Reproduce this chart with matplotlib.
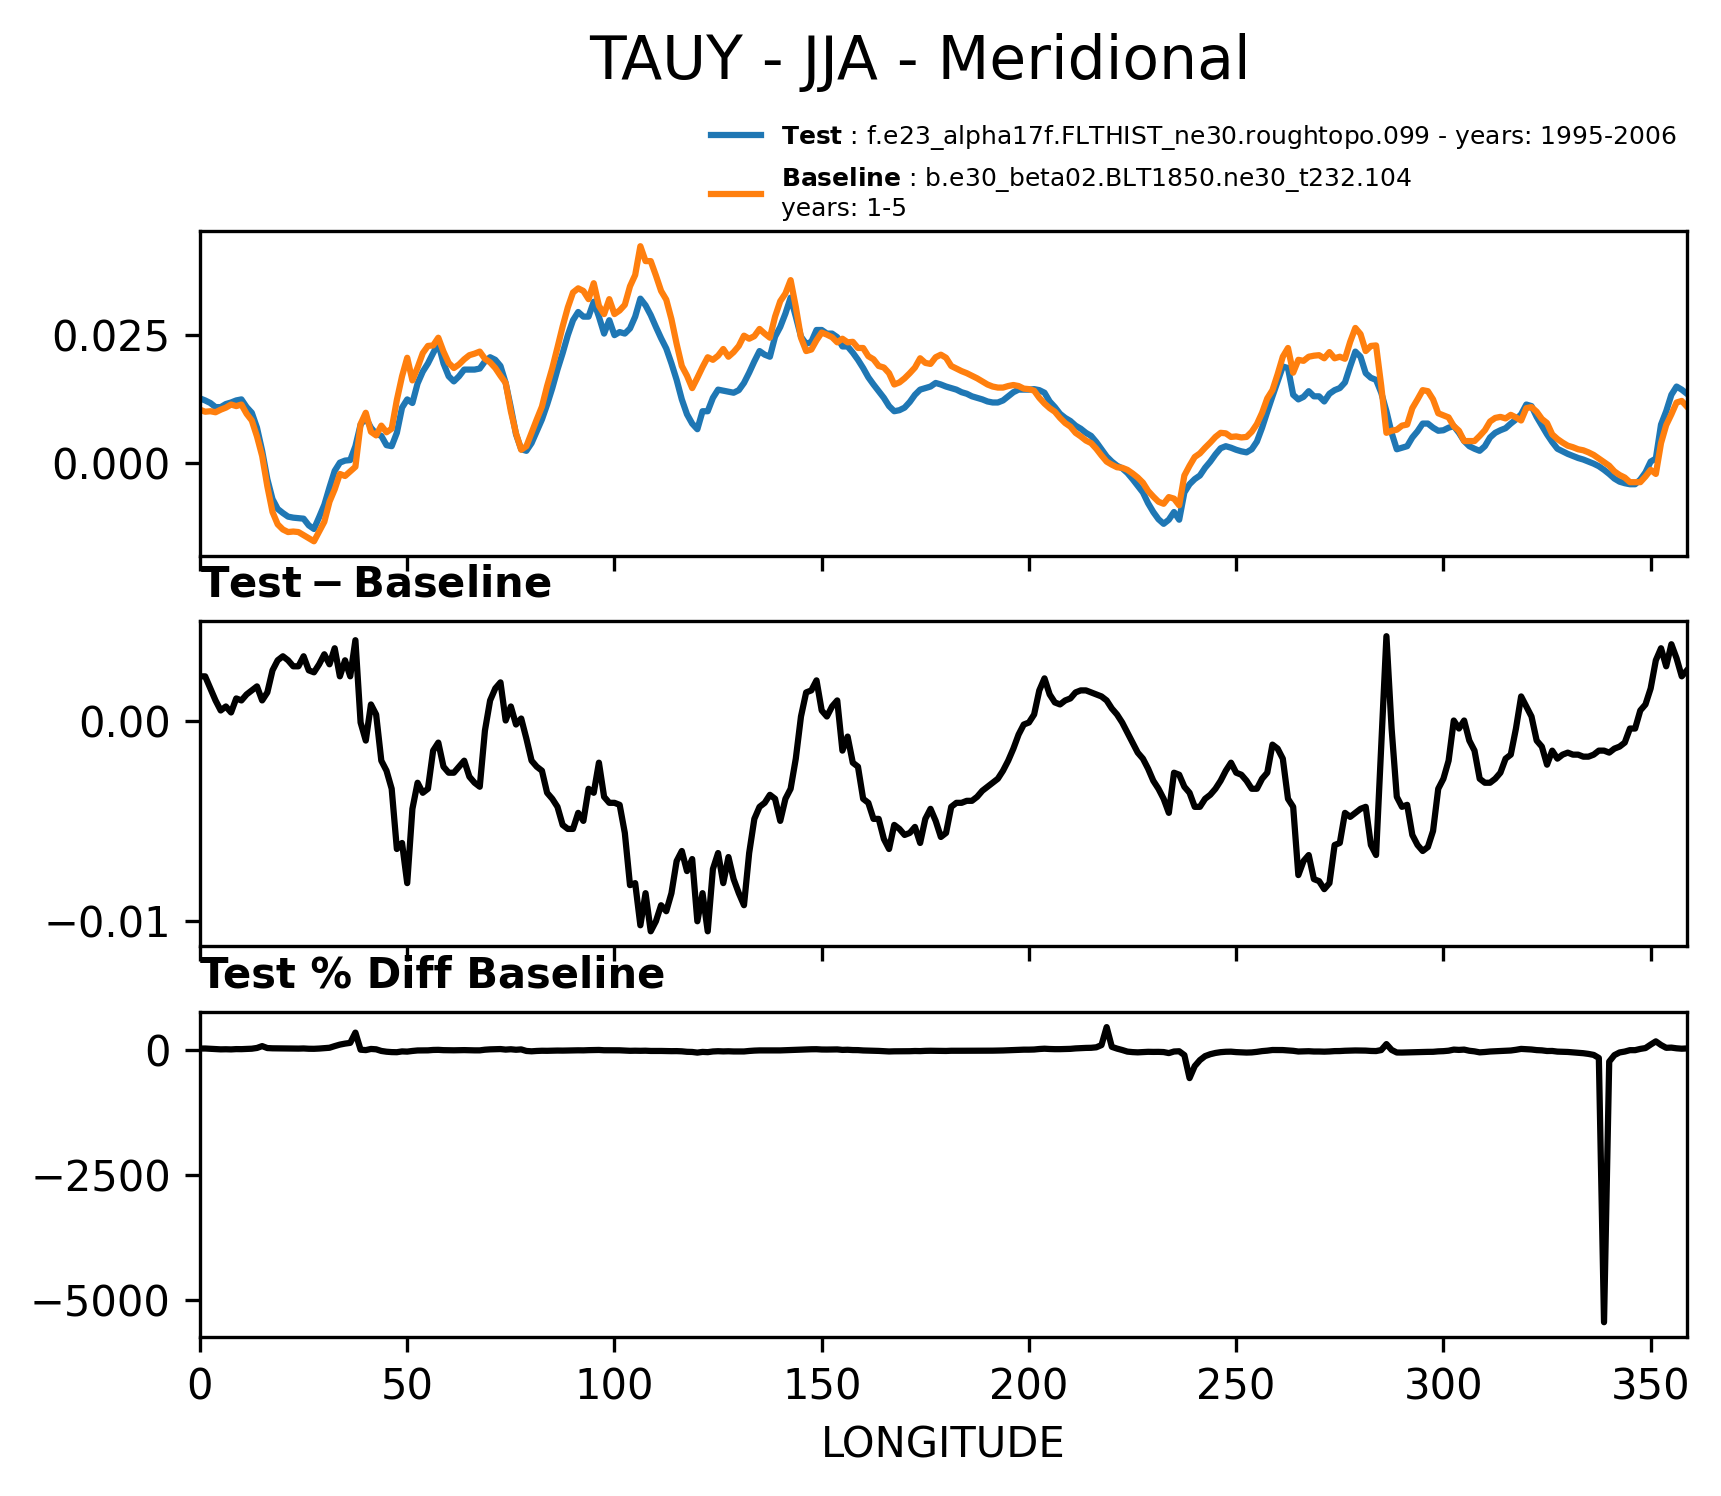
import numpy as np
import matplotlib.pyplot as plt
from matplotlib.ticker import MaxNLocator

# longitude grid of the model output (1.25 deg)
lon = np.arange(0, 360, 1.25)

# TAUY, JJA zonal profile - test run
test = [
    .0126, .0122, .0117, .0109, .0109, .0115, .0118, .0122,
    .0124, .0109, .0098, .0069, .0024, -.0031, -.0070, -.0089,
    -.0097, -.0104, -.0106, -.0107, -.0108, -.0121, -.0128, -.0105,
    -.0081, -.0047, -.0015, .0001, .0005, .0006, .0033, .0075,
    .0088, .0069, .0057, .0053, .0035, .0033, .0059, .0108,
    .0124, .0117, .0155, .0178, .0194, .0214, .0233, .0194,
    .0169, .0159, .0169, .0182, .0182, .0182, .0184, .0198,
    .0206, .0201, .0189, .0156, .0108, .0056, .0027, .0024,
    .0039, .0062, .0085, .0114, .0146, .0182, .0214, .0249,
    .0278, .0294, .0285, .0285, .0314, .0285, .0252, .0278,
    .0249, .0255, .0252, .0262, .0285, .0320, .0307, .0288,
    .0265, .0243, .0223, .0194, .0162, .0124, .0095, .0077,
    .0066, .0101, .0101, .0127, .0143, .0141, .0139, .0137,
    .0142, .0156, .0176, .0198, .0218, .0211, .0207, .0246,
    .0265, .0291, .0322, .0285, .0246, .0232, .0236, .0259,
    .0259, .0252, .0252, .0245, .0227, .0227, .0215, .0201,
    .0185, .0167, .0153, .0140, .0127, .0111, .0101, .0103,
    .0108, .0119, .0133, .0143, .0146, .0149, .0156, .0153,
    .0149, .0146, .0143, .0138, .0135, .0130, .0127, .0124,
    .0120, .0118, .0118, .0122, .0130, .0138, .0143, .0143,
    .0143, .0144, .0142, .0137, .0120, .0109, .0096, .0088,
    .0082, .0073, .0067, .0059, .0053, .0041, .0027, .0013,
    .0003, -.0005, -.0010, -.0019, -.0031, -.0044, -.0057, -.0078,
    -.0095, -.0109, -.0118, -.0110, -.0095, -.0110, -.0057, -.0041,
    -.0031, -.0024, -.0009, .0003, .0017, .0029, .0033, .0030,
    .0026, .0023, .0021, .0027, .0042, .0069, .0100, .0130,
    .0159, .0188, .0185, .0133, .0124, .0129, .0140, .0130,
    .0130, .0120, .0135, .0142, .0146, .0157, .0188, .0217,
    .0207, .0175, .0166, .0162, .0137, .0101, .0059, .0027,
    .0030, .0033, .0050, .0062, .0077, .0077, .0069, .0063,
    .0064, .0069, .0072, .0059, .0043, .0033, .0028, .0024,
    .0033, .0050, .0059, .0064, .0068, .0077, .0085, .0095,
    .0114, .0111, .0090, .0073, .0056, .0041, .0028, .0023,
    .0018, .0014, .0010, .0007, .0003, -.0001, -.0006, -.0013,
    -.0021, -.0030, -.0036, -.0039, -.0041, -.0041, -.0032, -.0018,
    .0003, .0009, .0075, .0101, .0133, .0149, .0143, .0135,
]

# baseline run
base = [
    .0104, .0100, .0101, .0099, .0104, .0108, .0114, .0111,
    .0114, .0096, .0083, .0052, .0014, -.0045, -.0095, -.0119,
    -.0129, -.0134, -.0133, -.0134, -.0140, -.0146, -.0152, -.0133,
    -.0114, -.0075, -.0051, -.0021, -.0025, -.0016, -.0007, .0076,
    .0098, .0061, .0054, .0073, .0060, .0067, .0123, .0169,
    .0205, .0161, .0186, .0214, .0228, .0229, .0244, .0217,
    .0195, .0185, .0192, .0202, .0210, .0213, .0217, .0203,
    .0196, .0185, .0170, .0156, .0101, .0058, .0026, .0033,
    .0059, .0085, .0110, .0150, .0185, .0225, .0266, .0303,
    .0332, .0340, .0335, .0319, .0350, .0306, .0290, .0319,
    .0290, .0297, .0308, .0344, .0366, .0422, .0393, .0393,
    .0365, .0335, .0318, .0280, .0232, .0189, .0170, .0146,
    .0166, .0187, .0206, .0201, .0209, .0222, .0207, .0216,
    .0228, .0248, .0242, .0247, .0261, .0252, .0244, .0285,
    .0315, .0330, .0356, .0304, .0244, .0218, .0221, .0239,
    .0254, .0250, .0245, .0235, .0242, .0235, .0236, .0224,
    .0224, .0208, .0202, .0189, .0186, .0175, .0153, .0157,
    .0165, .0175, .0186, .0204, .0195, .0193, .0206, .0211,
    .0205, .0189, .0184, .0179, .0175, .0170, .0165, .0159,
    .0153, .0149, .0147, .0147, .0150, .0152, .0150, .0145,
    .0144, .0141, .0127, .0116, .0107, .0100, .0088, .0078,
    .0071, .0059, .0052, .0044, .0039, .0028, .0015, .0003,
    -.0003, -.0008, -.0009, -.0013, -.0020, -.0028, -.0038, -.0054,
    -.0065, -.0075, -.0079, -.0066, -.0069, -.0082, -.0024, -.0005,
    .0012, .0019, .0030, .0040, .0051, .0059, .0058, .0051,
    .0052, .0050, .0051, .0061, .0076, .0098, .0126, .0142,
    .0173, .0207, .0224, .0176, .0201, .0199, .0207, .0209,
    .0210, .0204, .0216, .0204, .0207, .0203, .0236, .0263,
    .0251, .0218, .0228, .0229, .0150, .0059, .0063, .0065,
    .0073, .0075, .0107, .0124, .0142, .0140, .0124, .0097,
    .0093, .0089, .0072, .0063, .0043, .0043, .0043, .0053,
    .0064, .0081, .0088, .0090, .0087, .0094, .0089, .0083,
    .0107, .0109, .0100, .0086, .0078, .0056, .0047, .0040,
    .0034, .0031, .0027, .0025, .0021, .0016, .0009, .0002,
    -.0005, -.0016, -.0023, -.0028, -.0037, -.0037, -.0037, -.0026,
    -.0013, -.0021, .0039, .0074, .0095, .0118, .0121, .0110,
]

# test - baseline
diff = [
    .0022, .0022, .0016, .0010, .0005, .0007, .0004, .0011,
    .0010, .0013, .0015, .0017, .0010, .0014, .0025, .0030,
    .0032, .0030, .0027, .0027, .0032, .0025, .0024, .0028,
    .0033, .0028, .0036, .0022, .0030, .0022, .0040, -.0001,
    -.0010, .0008, .0003, -.0020, -.0025, -.0034, -.0064, -.0061,
    -.0081, -.0044, -.0031, -.0036, -.0034, -.0015, -.0011, -.0023,
    -.0026, -.0026, -.0023, -.0020, -.0028, -.0031, -.0033, -.0005,
    .0010, .0016, .0019, .0000, .0007, -.0002, .0001, -.0009,
    -.0020, -.0023, -.0025, -.0036, -.0039, -.0043, -.0052, -.0054,
    -.0054, -.0046, -.0050, -.0034, -.0036, -.0021, -.0038, -.0041,
    -.0041, -.0042, -.0056, -.0082, -.0081, -.0102, -.0086, -.0105,
    -.0100, -.0092, -.0095, -.0086, -.0070, -.0065, -.0075, -.0069,
    -.0100, -.0086, -.0105, -.0074, -.0066, -.0081, -.0068, -.0079,
    -.0086, -.0092, -.0066, -.0049, -.0043, -.0041, -.0037, -.0039,
    -.0050, -.0039, -.0034, -.0019, .0002, .0014, .0015, .0020,
    .0005, .0002, .0007, .0010, -.0015, -.0008, -.0021, -.0023,
    -.0039, -.0041, -.0049, -.0049, -.0059, -.0064, -.0052, -.0054,
    -.0057, -.0056, -.0053, -.0061, -.0049, -.0044, -.0050, -.0058,
    -.0056, -.0043, -.0041, -.0041, -.0040, -.0040, -.0038, -.0035,
    -.0033, -.0031, -.0029, -.0025, -.0020, -.0014, -.0007, -.0002,
    -.0001, .0003, .0015, .0021, .0013, .0009, .0008, .0010,
    .0011, .0014, .0015, .0015, .0014, .0013, .0012, .0010,
    .0006, .0003, -.0001, -.0006, -.0011, -.0016, -.0019, -.0024,
    -.0030, -.0034, -.0039, -.0046, -.0026, -.0027, -.0033, -.0036,
    -.0043, -.0043, -.0039, -.0037, -.0034, -.0030, -.0025, -.0021,
    -.0026, -.0027, -.0030, -.0034, -.0034, -.0029, -.0026, -.0012,
    -.0014, -.0019, -.0039, -.0043, -.0077, -.0070, -.0067, -.0079,
    -.0080, -.0084, -.0081, -.0062, -.0061, -.0046, -.0048, -.0046,
    -.0044, -.0043, -.0062, -.0067, -.0013, .0042, -.0004, -.0038,
    -.0043, -.0042, -.0057, -.0062, -.0065, -.0063, -.0055, -.0034,
    -.0029, -.0020, .0000, -.0004, .0000, -.0010, -.0015, -.0029,
    -.0031, -.0031, -.0029, -.0026, -.0019, -.0017, -.0004, .0012,
    .0007, .0002, -.0010, -.0013, -.0022, -.0015, -.0019, -.0017,
    -.0016, -.0017, -.0017, -.0018, -.0018, -.0017, -.0015, -.0015,
    -.0016, -.0014, -.0013, -.0011, -.0004, -.0004, .0005, .0008,
    .0016, .0030, .0036, .0027, .0038, .0031, .0022, .0025,
]

# test % diff baseline
pct = [
    21, 22, 16, 10, 5, 7, 4, 10,
    9, 13, 18, 33, 70, 31, 26, 25,
    25, 22, 20, 20, 23, 17, 16, 21,
    29, 37, 70, 100, 120, 135, 340, -2,
    -10, 13, 6, -27, -42, -50, -52, -36,
    -40, -27, -17, -17, -15, -7, -5, -11,
    -13, -14, -12, -10, -13, -15, -15, -2,
    5, 9, 11, 0, 7, -3, 4, -27,
    -34, -27, -23, -24, -21, -19, -20, -18,
    -16, -14, -15, -11, -10, -7, -13, -13,
    -14, -14, -18, -24, -22, -24, -22, -27,
    -27, -27, -30, -31, -30, -34, -44, -47,
    -60, -46, -51, -37, -32, -36, -33, -37,
    -38, -37, -27, -20, -16, -16, -15, -14,
    -16, -12, -10, -6, 1, 6, 7, 8,
    2, 1, 3, 4, -6, -3, -9, -10,
    -17, -20, -24, -26, -32, -37, -34, -34,
    -35, -32, -28, -30, -25, -23, -24, -27,
    -27, -23, -22, -23, -23, -24, -23, -22,
    -22, -21, -20, -17, -13, -9, -5, -1,
    -1, 2, 12, 18, 12, 9, 9, 13,
    15, 24, 29, 34, 36, 46, 90, 450,
    55, 20, -8, -40, -50, -55, -50, -44,
    -46, -45, -49, -70, -38, -33, -110, -570,
    -330, -210, -130, -92, -67, -51, -43, -41,
    -50, -54, -59, -56, -45, -30, -21, -8,
    -8, -9, -17, -24, -38, -35, -32, -38,
    -38, -41, -37, -30, -29, -23, -20, -17,
    -18, -20, -27, -29, -9, 110, -6, -58,
    -59, -56, -53, -50, -46, -45, -44, -35,
    -31, -22, 0, -6, 0, -23, -35, -55,
    -48, -38, -33, -29, -22, -18, -4, 14,
    7, 2, -10, -15, -28, -27, -40, -43,
    -47, -55, -63, -72, -86, -106, -167, -5450,
    -240, -110, -57, -39, -11, -11, 14, 31,
    100, 165, 92, 36, 40, 26, 18, 23,
]

test_label = r"$\bf{Test}$ : f.e23_alpha17f.FLTHIST_ne30.roughtopo.099 - years: 1995-2006"
base_label = r"$\bf{Baseline}$ : b.e30_beta02.BLT1850.ne30_t232.104" + "\nyears: 1-5"

fig = plt.figure(figsize=(1721 / 300, 1496 / 300), dpi=300)
left, width, h = 0.1162, 0.864, 0.217
ax1 = fig.add_axes([left, 0.6283, width, h])
ax2 = fig.add_axes([left, 0.3676, width, h], sharex=ax1)
ax3 = fig.add_axes([left, 0.1063, width, h], sharex=ax1)

ax1.plot(lon, test, color="tab:blue", lw=1.5, label=test_label)
ax1.plot(lon, base, color="tab:orange", lw=1.5, label=base_label)
ax1.legend(loc="lower right", bbox_to_anchor=(1.0, 1.0), fontsize=6,
           frameon=False, borderaxespad=0.0)

ax2.plot(lon, diff, color="black", lw=1.5)
ax2.set_title(r"$\bf{Test - Baseline}$", loc="left", fontsize=10)

ax3.plot(lon, pct, color="black", lw=1.5)
ax3.set_title("Test % Diff Baseline", loc="left", fontsize=10, fontweight="bold")
ax3.set_xlabel("LONGITUDE")

ax1.yaxis.set_major_locator(MaxNLocator(3))
ax2.set_yticks([-0.01, 0.0])
ax3.yaxis.set_major_locator(MaxNLocator(3))
ax1.set_xlim(0, 358.75)
ax1.set_xticks(np.arange(0, 351, 50))
plt.setp(ax1.get_xticklabels(), visible=False)
plt.setp(ax2.get_xticklabels(), visible=False)

fig.text(0.5346, 0.958, "TAUY - JJA - Meridional", ha="center", va="center", fontsize=14.4)

fig.savefig("out.png", dpi=300)
